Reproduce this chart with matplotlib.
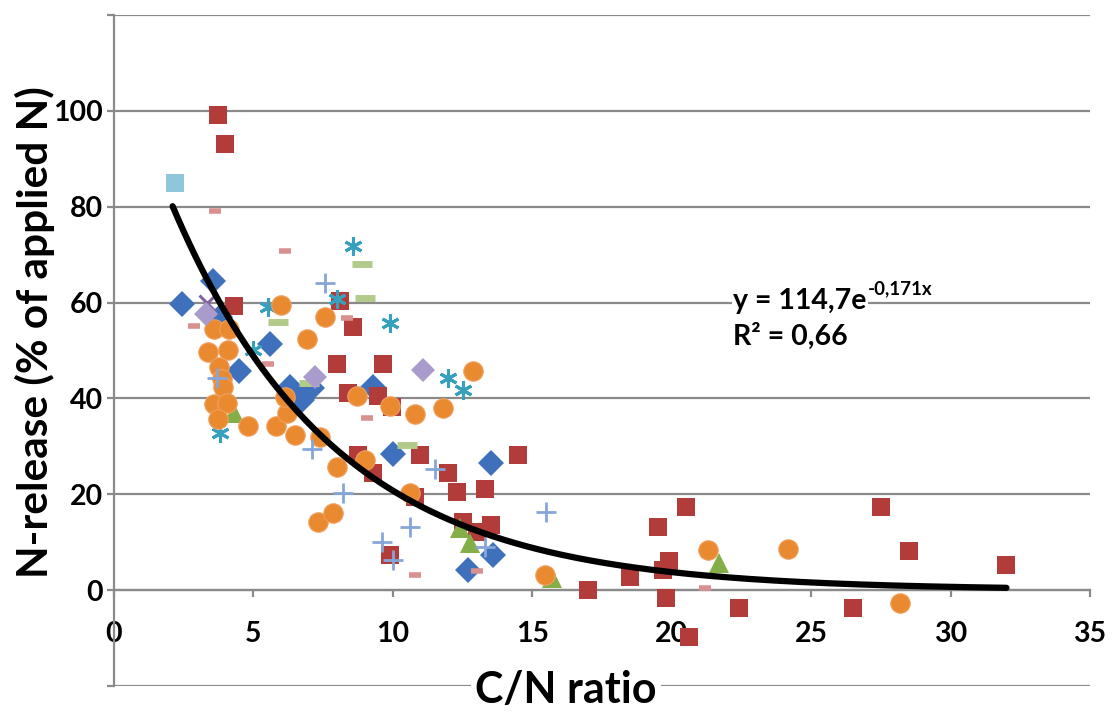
import numpy as np
import matplotlib
matplotlib.use('Agg')
import matplotlib.pyplot as plt

# values
blue_x = [2.44, 3.55, 3.8, 5.6, 4.48, 6.3, 6.74, 7.1, 9.3, 10.0, 13.5, 13.6, 12.7]
blue_y = [59.6, 64.4, 57.0, 51.3, 45.8, 42.3, 39.6, 42.1, 42.3, 28.5, 26.5, 7.3, 4.2]

red_x = [3.73, 3.98, 4.3, 8.1, 8.57, 8.0, 9.64, 8.4, 9.46, 9.96, 8.75, 9.3, 10.97,
         11.97, 12.3, 13.3, 14.5, 12.5, 13.5, 13.0, 10.8, 9.9, 17.0, 18.5, 19.5,
         20.5, 19.9, 19.7, 19.8, 20.6, 22.4, 26.5, 27.5, 28.5, 32.0]
red_y = [99.2, 93.1, 59.3, 60.4, 55.0, 47.2, 47.2, 41.2, 40.4, 38.2, 28.1, 24.4, 28.1,
         24.4, 20.5, 21.2, 28.1, 14.2, 13.5, 12.1, 19.4, 7.3, 0.0, 2.8, 13.2,
         17.3, 6.0, 4.2, -1.6, -9.8, -3.8, -3.8, 17.3, 8.1, 5.2]

green_x = [4.3, 12.4, 12.76, 15.7, 21.7]
green_y = [36.9, 12.9, 9.8, 2.5, 5.6]

purple_x = [3.33]
purple_y = [60.0]

teal_x = [8.57, 5.52, 8.0, 9.9, 5.0, 3.8, 11.97, 12.5]
teal_y = [71.9, 59.0, 60.8, 55.8, 50.0, 32.7, 44.2, 41.7]

orange_x = [6.0, 7.55, 6.92, 3.57, 4.12, 3.37, 4.09, 3.76, 3.87, 3.9, 3.58, 4.05,
            3.73, 4.8, 5.8, 6.5, 6.2, 6.13, 7.4, 8.7, 9.9, 12.87, 10.8, 11.8,
            8.0, 9.0, 10.6, 7.31, 7.85, 15.45, 21.3, 24.15, 28.2]
orange_y = [59.4, 57.0, 52.4, 54.4, 54.4, 49.6, 50.0, 46.5, 44.0, 42.3, 38.8, 39.1,
            35.8, 34.3, 34.3, 32.3, 36.9, 40.2, 31.9, 40.6, 38.5, 45.8, 36.7, 37.9,
            25.6, 27.1, 20.3, 14.2, 16.0, 3.1, 8.3, 8.5, -2.7]

plus_x = [7.58, 3.69, 7.1, 11.5, 8.2, 15.5, 10.6, 13.3, 9.6, 10.0]
plus_y = [64.0, 44.2, 29.4, 25.2, 20.3, 16.2, 13.1, 9.0, 10.0, 6.3]

ldash_x = [8.9, 9.0, 5.88, 7.0, 10.5]
ldash_y = [68.1, 61.0, 56.0, 43.3, 30.2]

pdash_x = [3.62, 6.13, 2.85, 8.35, 5.52, 9.07, 10.8, 13.0, 21.2]
pdash_y = [79.0, 70.8, 55.2, 56.7, 47.2, 36.0, 3.1, 4.0, 0.4]

lsq_x = [2.19]
lsq_y = [85.0]

lav_x = [3.28, 7.2, 11.08]
lav_y = [57.6, 44.4, 46.0]

# exponential trendline as printed on the chart
fit_a = 114.7
fit_b = -0.171
fit_xmin, fit_xmax = 2.1, 32.0

xticks = [0, 5, 10, 15, 20, 25, 30, 35]
yticks = [-20, 0, 20, 40, 60, 80, 100, 120]
ylabels = ['', '0', '20', '40', '60', '80', '100', '']

FONT = 'Lato'
plt.rcParams['font.family'] = [FONT, 'DejaVu Sans']
plt.rcParams['font.weight'] = 'bold'

GRID = '#8a8a8a'

fig = plt.figure(figsize=(11.16, 7.13), dpi=100)
ax = fig.add_axes([0.1022, 0.0379, 0.8746, 0.9411])

ax.plot(blue_x, blue_y, 'D', color='#3f70bb', ms=13, mew=0, zorder=3)
ax.plot(red_x, red_y, 's', color='#b23c3a', ms=13, mew=0, zorder=3)
ax.plot(green_x, green_y, '^', color='#84ae48', ms=14, mew=0, zorder=3)
ax.plot(purple_x, purple_y, 'x', color='#8064a2', ms=12, mew=2.2, zorder=3)
ax.plot(teal_x, teal_y, marker=(6, 2, 0), ls='none', color='#37a1bd', ms=13, mew=2.2, zorder=3)
ax.plot(orange_x, orange_y, 'o', color='#e98a30', mec='#f0a060', ms=14, mew=0.8, zorder=3)
ax.plot(plus_x, plus_y, '+', color='#86a6d9', ms=14, mew=2.0, zorder=3)
ax.plot(ldash_x, ldash_y, '_', color='#b2cb8b', ms=14, mew=5, zorder=3)
ax.plot(pdash_x, pdash_y, '_', color='#d9918f', ms=9, mew=4, zorder=3)
ax.plot(lsq_x, lsq_y, 's', color='#8fc6db', ms=13, mew=0, zorder=3)
ax.plot(lav_x, lav_y, 'D', color='#a99bcb', ms=12, mew=0, zorder=3)

xs = np.linspace(fit_xmin, fit_xmax, 300)
ax.plot(xs, fit_a * np.exp(fit_b * xs), color='black', lw=4.5, zorder=5,
        solid_capstyle='round')

ax.set_xlim(0, 35)
ax.set_ylim(-20, 120)
ax.set_xticks(xticks)
ax.set_yticks(yticks)
ax.set_yticklabels(ylabels)
ax.grid(axis='y', color=GRID, lw=1.6)
ax.set_axisbelow(True)

for s in ['top', 'right']:
    ax.spines[s].set_visible(False)
ax.spines['left'].set_color(GRID)
ax.spines['left'].set_linewidth(1.6)
ax.spines['bottom'].set_position(('data', 0))
ax.spines['bottom'].set_color(GRID)
ax.spines['bottom'].set_linewidth(1.6)
ax.spines['bottom'].set_zorder(0.6)

ax.tick_params(axis='y', length=5, width=1.6, color=GRID, labelsize=20.5, pad=3)
ax.tick_params(axis='x', length=5, width=1.6, color=GRID, labelsize=20.5, pad=17)
for lab in ax.get_xticklabels():
    lab.set_fontweight('bold')
    if lab.get_text() == '0':
        lab.set_bbox(dict(facecolor='white', edgecolor='none', pad=5))
for lab in ax.get_yticklabels():
    lab.set_fontweight('bold')

eq = ax.text(22.2, 60.4, 'y = 114,7e', fontsize=20.5, fontweight='bold',
             va='center', ha='left', zorder=6,
             bbox=dict(facecolor='white', edgecolor='none', pad=1))
ax.annotate('-0,171x', xy=(1, 0.62), xycoords=eq, xytext=(1, 0), textcoords='offset points',
            fontsize=13.5, fontweight='bold', ha='left', va='bottom', zorder=6,
            bbox=dict(facecolor='white', edgecolor='none', pad=1))
ax.text(22.2, 53.0, 'R² = 0,66', fontsize=20.5, fontweight='bold', va='center', ha='left',
        zorder=6)

fig.text(0.031, 0.534, 'N-release (% of applied N)', rotation=90, fontsize=30.5,
         fontweight='bold', ha='center', va='center')
fig.text(0.507, 0.032, 'C/N ratio', fontsize=31, fontweight='bold', ha='center', va='center',
         bbox=dict(facecolor='white', edgecolor='none', pad=3))

fig.savefig('out.png', dpi=100)
